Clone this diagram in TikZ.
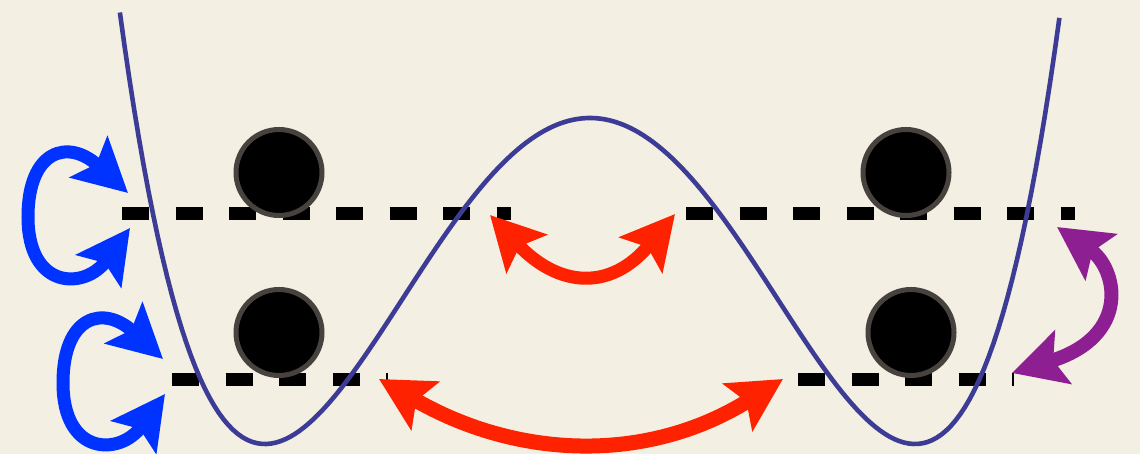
\documentclass[tikz,border=0pt]{standalone}
\usepackage{xcolor}
\usetikzlibrary{arrows.meta}
\usetikzlibrary{math}
\definecolor{wbg}{RGB}{243,239,226}
\definecolor{wcurve}{RGB}{60,60,150}
\definecolor{wred}{RGB}{255,34,0}
\definecolor{wblue}{RGB}{0,51,255}
\definecolor{wpurple}{RGB}{142,31,147}
\definecolor{wgray}{RGB}{72,66,62}

\begin{document}
\begin{tikzpicture}[x=1pt, y=-1pt,
  level/.style={line width=13pt, dash pattern=on 27pt off 26.5pt},
  ball/.style={circle, fill=black, draw=wgray, line width=5pt, minimum size=86pt, inner sep=0pt},
  hop/.style={line width=#1, >={Stealth[length=53pt,width=55pt,inset=10pt]}, <->},
  hop/.default=13pt]
\tikzmath{
\cx=590;
\w=325;
\ymin=444;
\h=326;
}
\useasboundingbox (0,0) rectangle (1140,454);
\fill[wbg] (0,0) rectangle (1140,454);

%energy levels
\coordinate (upL1) at (122,213.5);
\coordinate (upL2) at (511,213.5);
\coordinate (upR1) at (686,213.5);
\coordinate (upR2) at (1075,213.5);
\coordinate (loL1) at (172,379);
\coordinate (loL2) at (387.5,379);
\coordinate (loR1) at (798,379);
\coordinate (loR2) at (1013.5,379);
\draw[level] (upL1) -- (upL2);
\draw[level] (upR1) -- (upR2);
\draw[level] (loL1) -- (loL2);
\draw[level] (loR1) -- (loR2);

%double well
\draw[wcurve, line width=4.6pt] plot[domain=-1.4465:1.4465, samples=200, variable=\u]
  ({\cx+\w*\u}, {\ymin-\h*(\u*\u-1)^2*(1+0.1*max(\u*\u-1,0))});

%particles
\node[ball] (pUL) at (279,172.5) {};
\node[ball] (pLL) at (279,332.5) {};
\node[ball] (pUR) at (906,172.5) {};
\node[ball] (pLR) at (911,332.5) {};

%tunnelling
\coordinate (tuA) at (490,215);
\coordinate (tuB) at (675,214);
\draw[wred, hop] (tuA) .. controls (559,288) and (611,291) .. (tuB);
\coordinate (tlA) at (379,379);
\coordinate (tlB) at (783,379);
\draw[wred, hop=15pt] (tlA) .. controls (517,459) and (647,464) .. (tlB);

%relaxation
\coordinate (rA) at (1057,227);
\coordinate (rB) at (1012,373);
\draw[wpurple, hop=14pt] (rA) .. controls (1117,268) and (1132,336) .. (rB);

%reflection
\begin{scope}[shift={(0,0)}]
\coordinate (bA) at (128,193);
\coordinate (bL) at (28,217);
\coordinate (bB) at (130,228);
\draw[wblue, hop] (bA) .. controls (68,138) and (28,150) .. (bL) .. controls (28,290) and (85,290) .. (bB);
\end{scope}
\begin{scope}[shift={(35,166)}]
\coordinate (cA) at (128,193);
\coordinate (cL) at (28,217);
\coordinate (cB) at (130,228);
\draw[wblue, hop] (cA) .. controls (68,138) and (28,150) .. (cL) .. controls (28,290) and (85,290) .. (cB);
\end{scope}

\end{tikzpicture}
\end{document}
